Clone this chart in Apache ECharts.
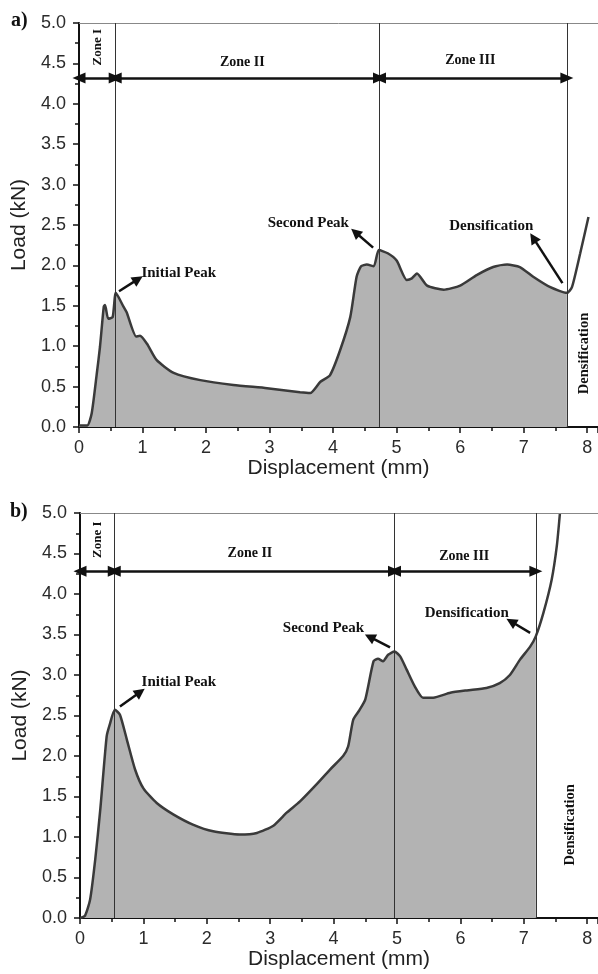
<!DOCTYPE html>
<html>
<head>
<meta charset="utf-8">
<script src="https://cdn.jsdelivr.net/npm/echarts@6/dist/echarts.min.js"></script>
<style>
  html, body { margin: 0; padding: 0; background: #fff; }
  #chart { width: 598px; height: 974px; }
</style>
</head>
<body>
<div id="chart"></div>
<script>
// panel a) displacement (mm) / load (kN)
var dispA = [0, 0.13, 0.2, 0.28, 0.33, 0.39, 0.41, 0.46, 0.53, 0.58, 0.7, 0.75, 0.9, 0.96, 1.07, 1.22, 1.49, 1.91, 2.43, 2.96, 3.48, 3.64, 3.8, 3.95, 4.11, 4.27, 4.37, 4.44, 4.53, 4.64, 4.72, 4.86, 5.0, 5.16, 5.24, 5.32, 5.48, 5.74, 6.0, 6.26, 6.52, 6.74, 6.94, 7.15, 7.42, 7.68, 7.76, 7.89, 8.02]
var loadA = [0.02, 0.02, 0.17, 0.66, 0.99, 1.49, 1.51, 1.34, 1.36, 1.66, 1.49, 1.42, 1.12, 1.13, 1.03, 0.83, 0.67, 0.58, 0.52, 0.48, 0.43, 0.42, 0.56, 0.64, 0.95, 1.36, 1.86, 1.99, 2.01, 1.99, 2.19, 2.15, 2.06, 1.82, 1.84, 1.9, 1.75, 1.7, 1.75, 1.88, 1.98, 2.01, 1.98, 1.86, 1.73, 1.66, 1.73, 2.15, 2.6]
// panel b)
var dispB = [0, 0.08, 0.16, 0.24, 0.32, 0.42, 0.47, 0.55, 0.63, 0.74, 0.87, 1.0, 1.21, 1.47, 1.79, 2.1, 2.52, 2.79, 3.05, 3.26, 3.47, 3.73, 3.94, 4.15, 4.23, 4.31, 4.41, 4.5, 4.63, 4.7, 4.78, 4.86, 4.96, 5.05, 5.15, 5.28, 5.41, 5.57, 5.84, 6.1, 6.41, 6.62, 6.78, 6.94, 7.1, 7.19, 7.31, 7.44, 7.52, 7.57]
var loadB = [0, 0.03, 0.23, 0.72, 1.34, 2.24, 2.39, 2.57, 2.51, 2.2, 1.83, 1.6, 1.42, 1.28, 1.15, 1.07, 1.03, 1.05, 1.14, 1.3, 1.44, 1.65, 1.83, 2.0, 2.12, 2.45, 2.57, 2.7, 3.17, 3.2, 3.17, 3.25, 3.29, 3.23, 3.07, 2.86, 2.72, 2.72, 2.78, 2.81, 2.84, 2.9, 3.0, 3.19, 3.35, 3.48, 3.77, 4.18, 4.59, 5.0]

// zone boundaries (initial peak, second peak, densification onset)
var zonesA = [0.57, 4.73, 7.68]
var zonesB = [0.54, 4.96, 7.19]
var zoneArrowY = [4.32, 4.28]

var xTicks = [0, 1, 2, 3, 4, 5, 6, 7, 8]
var yTicks = [0, 0.5, 1, 1.5, 2, 2.5, 3, 3.5, 4, 4.5, 5]

// [text, x, y, rotate]
var zoneLabelsA = [['Zone I', 0.30, 4.70, 90], ['Zone II', 2.57, 4.51, 0], ['Zone III', 6.16, 4.54, 0]]
var zoneLabelsB = [['Zone I', 0.28, 4.67, 90], ['Zone II', 2.68, 4.50, 0], ['Zone III', 6.06, 4.47, 0]]
var notesA = [['Initial Peak', 1.57, 1.91, 0], ['Second Peak', 3.61, 2.52, 0], ['Densification', 6.49, 2.48, 0], ['Densification', 7.95, 0.91, 90]]
var notesB = [['Initial Peak', 1.56, 2.91, 0], ['Second Peak', 3.84, 3.58, 0], ['Densification', 6.10, 3.77, 0], ['Densification', 7.73, 1.15, 90]]
// [x0, y0, x1, y1] arrow tail -> head
var arrowsA = [[0.63, 1.68, 0.93, 1.83], [4.63, 2.22, 4.35, 2.41], [7.61, 1.78, 7.15, 2.34]]
var arrowsB = [[0.63, 2.61, 0.95, 2.79], [4.89, 3.34, 4.57, 3.47], [7.10, 3.52, 6.80, 3.66]]

var chart = echarts.init(document.getElementById('chart'))

var serif = 'Liberation Serif'
var sans = 'Liberation Sans'

function pairs(xs, ys, limit) {
  var out = []
  for (var i = 0; i < xs.length; i++) {
    if (limit === undefined || xs[i] <= limit + 1e-9) out.push([xs[i], ys[i]])
  }
  return out
}

function xAxisOf(idx) {
  return {
    gridIndex: idx,
    type: 'value',
    min: 0,
    max: 8.17,
    interval: 1,
    name: 'Displacement (mm)',
    nameLocation: 'middle',
    nameGap: 31,
    nameTextStyle: {fontFamily: sans, fontSize: 21, color: '#222'},
    axisLine: {onZero: false, lineStyle: {color: '#111', width: 2}},
    axisTick: {length: 6, lineStyle: {color: '#111', width: 1.5}},
    minorTick: {show: true, splitNumber: 2, length: 4, lineStyle: {color: '#111', width: 1.5}},
    axisLabel: {fontFamily: sans, fontSize: 18, color: '#2b2b2b', margin: 12, showMaxLabel: false,
      formatter: function (v) { return xTicks.indexOf(v) >= 0 ? String(v) : '' }},
    splitLine: {show: false}
  }
}

function yAxisOf(idx) {
  return {
    gridIndex: idx,
    type: 'value',
    min: 0,
    max: 5,
    interval: 0.5,
    name: 'Load (kN)',
    nameLocation: 'middle',
    nameGap: 49,
    nameTextStyle: {fontFamily: sans, fontSize: 21, color: '#222'},
    axisLine: {lineStyle: {color: '#111', width: 2}},
    axisTick: {length: 6, lineStyle: {color: '#111', width: 1.5}},
    minorTick: {show: true, splitNumber: 2, length: 4, lineStyle: {color: '#111', width: 1.5}},
    axisLabel: {fontFamily: sans, fontSize: 18, color: '#2b2b2b', margin: 13,
      formatter: function (v) { return yTicks.indexOf(v) >= 0 ? v.toFixed(1) : '' }},
    splitLine: {show: false}
  }
}

function textMark(t, size) {
  return {
    name: t[0], coord: [t[1], t[2]], symbolSize: 0,
    label: {show: true, position: 'inside', formatter: '{b}', rotate: t[3],
      fontFamily: serif, fontWeight: 'bold', fontSize: size, color: '#111'}
  }
}

function panelSeries(idx, xs, ys, zones, arrowY, zoneLabels, notes, arrows) {
  var black = '#111'
  // top frame line
  var marks = [{yAxis: 5, lineStyle: {color: '#888', width: 1, type: 'solid'}, symbol: 'none'}]
  zones.forEach(function (z) {
    marks.push({xAxis: z, lineStyle: {color: '#333', width: 1, type: 'solid'}, symbol: 'none'})
  })
  var bounds = [0].concat(zones)
  for (var i = 0; i < zones.length; i++) {
    marks.push([
      {coord: [bounds[i], arrowY], symbol: 'triangle', symbolSize: [11, 13], lineStyle: {color: black, width: 2.5, type: 'solid'}},
      {coord: [bounds[i + 1], arrowY], symbol: 'triangle', symbolSize: [11, 13]}
    ])
  }
  var noteArrows = arrows.map(function (a) {
    return [
      {coord: [a[0], a[1]], symbol: 'none', lineStyle: {color: black, width: 2.5, type: 'solid'}},
      {coord: [a[2], a[3]], symbol: 'triangle', symbolSize: [11, 11]}
    ]
  })
  var texts = zoneLabels.map(function (t) { return textMark(t, t[3] ? 13 : 14) })
    .concat(notes.map(function (t) { return textMark(t, t[3] ? 14.5 : 15) }))
  return [
    {
      type: 'line',
      xAxisIndex: idx, yAxisIndex: idx,
      data: pairs(xs, ys, zones[2]),
      smooth: 0.2,
      showSymbol: false,
      lineStyle: {width: 0},
      areaStyle: {color: '#b3b3b3', opacity: 1},
      markLine: {silent: true, symbol: 'none', label: {show: false}, data: marks},
      z: 1
    },
    {
      type: 'line',
      xAxisIndex: idx, yAxisIndex: idx,
      data: pairs(xs, ys),
      smooth: 0.2,
      showSymbol: false,
      lineStyle: {color: '#3a3a3a', width: 2.5},
      markLine: {silent: true, symbol: 'none', label: {show: false}, data: noteArrows},
      markPoint: {silent: true, symbol: 'circle', data: texts},
      z: 3
    }
  ]
}

chart.setOption({
  animation: false,
  backgroundColor: '#fff',
  grid: [
    {left: 79, top: 23, width: 519, height: 404},
    {left: 80, top: 513, width: 518, height: 405}
  ],
  graphic: [
    {type: 'text', left: 11, top: 11, style: {text: 'a)', fontFamily: serif, fontWeight: 'bold', fontSize: 20, fill: '#111'}},
    {type: 'text', left: 10, top: 502, style: {text: 'b)', fontFamily: serif, fontWeight: 'bold', fontSize: 20, fill: '#111'}}
  ],
  xAxis: [xAxisOf(0), xAxisOf(1)],
  yAxis: [yAxisOf(0), yAxisOf(1)],
  series: panelSeries(0, dispA, loadA, zonesA, zoneArrowY[0], zoneLabelsA, notesA, arrowsA)
    .concat(panelSeries(1, dispB, loadB, zonesB, zoneArrowY[1], zoneLabelsB, notesB, arrowsB))
})
</script>
</body>
</html>
